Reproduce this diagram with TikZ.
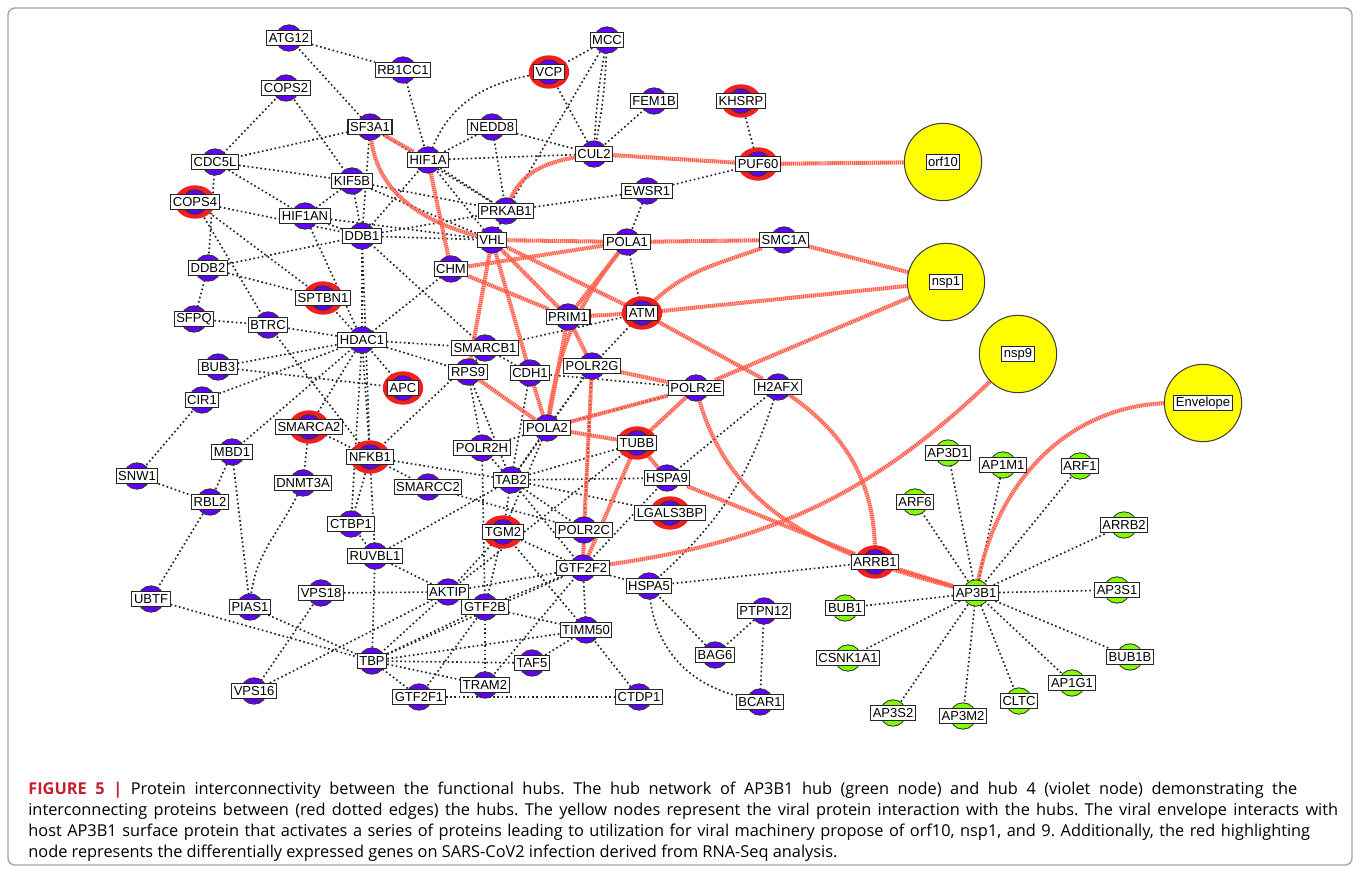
\documentclass[tikz,border=0pt]{standalone}
\usepackage{fontspec}
\newfontfamily\lblfont{Liberation Sans}
\newfontfamily\capfont{Open Sans}
\usetikzlibrary{shapes.geometric}
\definecolor{vio}{RGB}{98,0,255}
\definecolor{hubgreen}{RGB}{128,255,0}
\definecolor{degred}{RGB}{245,30,30}
\definecolor{viralyellow}{RGB}{255,255,0}
\definecolor{linkred}{RGB}{255,95,75}
\definecolor{figred}{RGB}{200,30,45}
\pgfdeclarelayer{bg}
\pgfdeclarelayer{edges}
\pgfdeclarelayer{discs}
\pgfsetlayers{bg,edges,discs,main}
\tikzset{
  lbl/.style={draw=black!85, fill=white, line width=0.6pt, inner xsep=1.2pt, inner ysep=0pt,
    minimum height=8.6pt, font=\lblfont\fontsize{7.4}{8}\selectfont},
  vdisc/.style={circle, draw=black!80, line width=0.5pt, fill=vio, minimum size=15pt, inner sep=0pt},
  gdisc/.style={vdisc, fill=hubgreen},
  degring/.style={ellipse, fill=degred, minimum width=23pt, minimum height=19pt, inner sep=0pt},
  viral/.style={circle, draw=black!75, line width=0.6pt, fill=viralyellow, minimum size=44pt, inner sep=0pt},
  dotedge/.style={draw=black!85, line width=0.95pt, dash pattern=on 0.95pt off 1.5pt},
  redlink/.style={draw=linkred, line width=2.3pt, dash pattern=on 0.8pt off 0.35pt},
  captext/.style={anchor=base west, inner sep=0pt, font=\capfont\fontsize{9.3}{10}\selectfont\frenchspacing}
}
\begin{document}
\begin{tikzpicture}[x=0.02cm, y=-0.02cm]
\useasboundingbox (0,0) rectangle (1360,872);
\begin{pgfonlayer}{bg}
\fill[white] (0,0) rectangle (1360,872);
\draw[black!35, line width=0.8pt, rounded corners=4pt] (8,8) rectangle (1352,865);
\end{pgfonlayer}

% hub 4 (violet)
\node[lbl] (atg12) at (289,38) {ATG12};
\node[lbl] (rb1cc1) at (403,70) {RB1CC1};
\node[lbl] (mcc) at (607,40) {MCC};
\node[lbl] (vcp) at (549,72) {VCP};
\node[lbl] (cops2) at (286,88) {COPS2};
\node[lbl] (fem1b) at (654,101) {FEM1B};
\node[lbl] (khsrp) at (741,101) {KHSRP};
\node[lbl] (sf3a1) at (370,127) {SF3A1};
\node[lbl] (nedd8) at (492,127) {NEDD8};
\node[lbl] (cul2) at (594,154) {CUL2};
\node[lbl] (hif1a) at (428,160) {HIF1A};
\node[lbl] (puf60) at (758,164) {PUF60};
\node[lbl] (cdc5l) at (215,162) {CDC5L};
\node[lbl] (kif5b) at (352,181) {KIF5B};
\node[lbl] (ewsr1) at (647,191) {EWSR1};
\node[lbl] (cops4) at (195,202) {COPS4};
\node[lbl] (prkab1) at (506,211) {PRKAB1};
\node[lbl] (hif1an) at (305,216) {HIF1AN};
\node[lbl] (ddb1) at (362,236) {DDB1};
\node[lbl] (vhl) at (492,240) {VHL};
\node[lbl] (pola1) at (627,242) {POLA1};
\node[lbl] (smc1a) at (784,240) {SMC1A};
\node[lbl] (ddb2) at (208,268) {DDB2};
\node[lbl] (chm) at (451,269) {CHM};
\node[lbl] (sptbn1) at (323,298) {SPTBN1};
\node[lbl] (prim1) at (568,317) {PRIM1};
\node[lbl] (atm) at (642,313) {ATM};
\node[lbl] (sfpq) at (194,319) {SFPQ};
\node[lbl] (btrc) at (268,325) {BTRC};
\node[lbl] (hdac1) at (362,340) {HDAC1};
\node[lbl] (smarcb1) at (485,348) {SMARCB1};
\node[lbl] (bub3) at (218,367) {BUB3};
\node[lbl] (rps9) at (468,372) {RPS9};
\node[lbl] (cdh1) at (530,373) {CDH1};
\node[lbl] (polr2g) at (592,366) {POLR2G};
\node[lbl] (polr2e) at (696,388) {POLR2E};
\node[lbl] (h2afx) at (778,387) {H2AFX};
\node[lbl] (apc) at (403,388) {APC};
\node[lbl] (cir1) at (202,400) {CIR1};
\node[lbl] (smarca2) at (309,427) {SMARCA2};
\node[lbl] (pola2) at (547,428) {POLA2};
\node[lbl] (tubb) at (637,443) {TUBB};
\node[lbl] (polr2h) at (482,448) {POLR2H};
\node[lbl] (mbd1) at (232,452) {MBD1};
\node[lbl] (nfkb1) at (370,457) {NFKB1};
\node[lbl] (snw1) at (137,476) {SNW1};
\node[lbl] (tab2) at (511,480) {TAB2};
\node[lbl] (hspa9) at (667,478) {HSPA9};
\node[lbl] (dnmt3a) at (303,483) {DNMT3A};
\node[lbl] (smarcc2) at (428,487) {SMARCC2};
\node[lbl] (rbl2) at (210,502) {RBL2};
\node[lbl] (lgals3bp) at (670,513) {LGALS3BP};
\node[lbl] (ctbp1) at (351,524) {CTBP1};
\node[lbl] (tgm2) at (503,532) {TGM2};
\node[lbl] (polr2c) at (584,530) {POLR2C};
\node[lbl] (ruvbl1) at (375,556) {RUVBL1};
\node[lbl] (gtf2f2) at (583,568) {GTF2F2};
\node[lbl] (hspa5) at (649,586) {HSPA5};
\node[lbl] (aktip) at (448,592) {AKTIP};
\node[lbl] (vps18) at (321,593) {VPS18};
\node[lbl] (ubtf) at (151,599) {UBTF};
\node[lbl] (pias1) at (250,607) {PIAS1};
\node[lbl] (gtf2b) at (485,607) {GTF2B};
\node[lbl] (ptpn12) at (764,611) {PTPN12};
\node[lbl] (timm50) at (586,630) {TIMM50};
\node[lbl] (bag6) at (715,655) {BAG6};
\node[lbl] (tbp) at (372,661) {TBP};
\node[lbl] (taf5) at (532,663) {TAF5};
\node[lbl] (tram2) at (485,685) {TRAM2};
\node[lbl] (vps16) at (254,691) {VPS16};
\node[lbl] (gtf2f1) at (419,697) {GTF2F1};
\node[lbl] (ctdp1) at (639,697) {CTDP1};
\node[lbl] (bcar1) at (760,702) {BCAR1};
\node[lbl] (arrb1) at (875,562) {ARRB1};

% AP3B1 hub (green)
\node[lbl] (ap3b1) at (976,593) {AP3B1};
\node[lbl] (ap3d1) at (948,453) {AP3D1};
\node[lbl] (ap1m1) at (1003,465) {AP1M1};
\node[lbl] (arf1) at (1080,466) {ARF1};
\node[lbl] (arf6) at (915,502) {ARF6};
\node[lbl] (arrb2) at (1124,525) {ARRB2};
\node[lbl] (ap3s1) at (1117,590) {AP3S1};
\node[lbl] (bub1) at (845,608) {BUB1};
\node[lbl] (csnk1a1) at (848,658) {CSNK1A1};
\node[lbl] (bub1b) at (1130,657) {BUB1B};
\node[lbl] (ap1g1) at (1072,683) {AP1G1};
\node[lbl] (cltc) at (1019,701) {CLTC};
\node[lbl] (ap3s2) at (893,713) {AP3S2};
\node[lbl] (ap3m2) at (963,716) {AP3M2};

% viral proteins
\node[lbl] (orf10) at (943,162) {orf10};
\node[lbl] (nsp1) at (946,282) {nsp1};
\node[lbl] (nsp9) at (1018,354) {nsp9};
\node[lbl] (envelope) at (1203,403) {Envelope};

\begin{pgfonlayer}{discs}
\foreach \n in {atg12,rb1cc1,mcc,cops2,fem1b,sf3a1,nedd8,cul2,hif1a,cdc5l,kif5b,ewsr1,prkab1,hif1an,
  ddb1,vhl,pola1,smc1a,ddb2,chm,prim1,sfpq,btrc,hdac1,smarcb1,bub3,rps9,cdh1,polr2g,polr2e,h2afx,
  cir1,pola2,polr2h,mbd1,snw1,tab2,hspa9,dnmt3a,smarcc2,rbl2,ctbp1,polr2c,ruvbl1,gtf2f2,hspa5,aktip,
  vps18,ubtf,pias1,gtf2b,ptpn12,timm50,bag6,tbp,taf5,tram2,vps16,gtf2f1,ctdp1,bcar1}
  \node[vdisc] at (\n) {};
\foreach \n in {vcp,khsrp,puf60,cops4,sptbn1,atm,apc,smarca2,nfkb1,tubb,lgals3bp,tgm2,arrb1}
  {\node[degring] at (\n) {}; \node[vdisc, minimum size=14pt] at (\n) {};}
\foreach \n in {ap3b1,ap3d1,ap1m1,arf1,arf6,arrb2,ap3s1,bub1,csnk1a1,bub1b,ap1g1,cltc,ap3s2,ap3m2}
  \node[gdisc] at (\n) {};
\foreach \n in {orf10,nsp1,nsp9,envelope}
  \node[viral] at (\n) {};
\end{pgfonlayer}

\begin{pgfonlayer}{edges}
% dotted interactions
\draw[dotedge] (atg12) -- (rb1cc1);
\draw[dotedge] (atg12) -- (sf3a1);
\draw[dotedge] (cops2) -- (cdc5l);
\draw[dotedge] (cops2) -- (kif5b);
\draw[dotedge] (rb1cc1) -- (hif1a);
\draw[dotedge] (sf3a1) -- (cdc5l);
\draw[dotedge] (vcp) to[out=190,in=70] (hif1a);
\draw[dotedge] (vcp) -- (cul2);
\draw[dotedge] (mcc) -- (vcp);
\draw[dotedge] (mcc) to[bend left=4] (cul2);
\draw[dotedge] (mcc) to[bend right=4] (cul2);
\draw[dotedge] (mcc) -- (prkab1);
\draw[dotedge] (fem1b) -- (cul2);
\draw[dotedge] (khsrp) -- (puf60);
\draw[dotedge] (nedd8) -- (cul2);
\draw[dotedge] (nedd8) -- (hif1a);
\draw[dotedge] (nedd8) -- (prkab1);
\draw[dotedge] (hif1a) -- (cul2);
\draw[dotedge] (ewsr1) -- (puf60);
\draw[dotedge] (ewsr1) -- (prkab1);
\draw[dotedge] (ewsr1) -- (pola1);
\draw[dotedge] (pola1) -- (atm);
\draw[dotedge] (prkab1) -- (vhl);
\draw[dotedge] (cdc5l) -- (kif5b);
\draw[dotedge] (cdc5l) -- (hif1an);
\draw[dotedge] (cdc5l) -- (ddb2);
\draw[dotedge] (cops4) -- (ddb1);
\draw[dotedge] (cops4) -- (sptbn1);
\draw[dotedge] (cops4) -- (btrc);
\draw[dotedge] (ddb2) -- (sptbn1);
\draw[dotedge] (ddb2) -- (ddb1);
\draw[dotedge] (ddb2) -- (sfpq);
\draw[dotedge] (hif1an) -- (kif5b);
\draw[dotedge] (hif1an) -- (ddb1);
\draw[dotedge] (hif1an) -- (hdac1);
\draw[dotedge] (hif1an) -- (vhl);
\draw[dotedge] (kif5b) -- (ddb1);
\draw[dotedge] (kif5b) -- (prkab1);
\draw[dotedge] (kif5b) -- (vhl);
\draw[dotedge] (sf3a1) -- (prkab1);
\draw[dotedge] (sf3a1) -- (ddb1);
\draw[dotedge] (hif1a) -- (ddb1);
\draw[dotedge] (hif1a) -- (vhl);
\draw[dotedge] (hif1a) -- (prkab1);
\draw[dotedge] (ddb1) -- (vhl);
\draw[dotedge] (ddb1) -- (prkab1);
\draw[dotedge] (ddb1) -- (hdac1);
\draw[dotedge] (ddb1) -- (nfkb1);
\draw[dotedge] (ddb1) -- (smarcb1);
\draw[dotedge] (sfpq) -- (btrc);
\draw[dotedge] (btrc) -- (hdac1);
\draw[dotedge] (sptbn1) -- (hdac1);
\draw[dotedge] (bub3) -- (hdac1);
\draw[dotedge] (cir1) -- (hdac1);
\draw[dotedge] (bub3) -- (apc);
\draw[dotedge] (btrc) -- (nfkb1);
\draw[dotedge] (hdac1) -- (smarcb1);
\draw[dotedge] (hdac1) -- (rps9);
\draw[dotedge] (hdac1) -- (chm);
\draw[dotedge] (hdac1) -- (apc);
\draw[dotedge] (hdac1) -- (nfkb1);
\draw[dotedge] (hdac1) -- (ctbp1);
\draw[dotedge] (hdac1) -- (smarca2);
\draw[dotedge] (hdac1) -- (mbd1);
\draw[dotedge] (smarcb1) -- (nfkb1);
\draw[dotedge] (smarcb1) -- (atm);
\draw[dotedge] (cir1) -- (snw1);
\draw[dotedge] (snw1) -- (rbl2);
\draw[dotedge] (mbd1) -- (rbl2);
\draw[dotedge] (mbd1) -- (pias1);
\draw[dotedge] (rbl2) -- (ubtf);
\draw[dotedge] (smarca2) -- (dnmt3a);
\draw[dotedge] (dnmt3a) to[out=-115,in=85] (pias1);
\draw[dotedge] (smarca2) -- (nfkb1);
\draw[dotedge] (nfkb1) -- (smarcc2);
\draw[dotedge] (nfkb1) -- (tab2);
\draw[dotedge] (nfkb1) -- (ctbp1);
\draw[dotedge] (nfkb1) -- (ruvbl1);
\draw[dotedge] (smarcc2) -- (polr2c);
\draw[dotedge] (ctbp1) -- (ruvbl1);
\draw[dotedge] (ruvbl1) -- (tab2);
\draw[dotedge] (ruvbl1) -- (aktip);
\draw[dotedge] (ruvbl1) -- (tbp);
\draw[dotedge] (vps18) -- (aktip);
\draw[dotedge] (vps18) -- (vps16);
\draw[dotedge] (vps16) -- (aktip);
\draw[dotedge] (ubtf) -- (tbp);
\draw[dotedge] (pias1) -- (tbp);
\draw[dotedge] (tbp) -- (gtf2b);
\draw[dotedge] (tbp) -- (aktip);
\draw[dotedge] (tbp) -- (taf5);
\draw[dotedge] (tbp) -- (tram2);
\draw[dotedge] (tbp) -- (gtf2f1);
\draw[dotedge] (tbp) -- (gtf2f2);
\draw[dotedge] (tbp) -- (timm50);
\draw[dotedge] (gtf2f1) -- (ctdp1);
\draw[dotedge] (gtf2f1) -- (gtf2b);
\draw[dotedge] (aktip) -- (gtf2f2);
\draw[dotedge] (aktip) -- (tgm2);
\draw[dotedge] (gtf2b) -- (tgm2);
\draw[dotedge] (gtf2b) -- (gtf2f2);
\draw[dotedge] (gtf2b) -- (tram2);
\draw[dotedge] (gtf2b) -- (timm50);
\draw[dotedge] (polr2h) -- (gtf2b);
\draw[dotedge] (tgm2) -- (timm50);
\draw[dotedge] (tgm2) -- (tab2);
\draw[dotedge] (tgm2) -- (gtf2f2);
\draw[dotedge] (tram2) -- (gtf2f2);
\draw[dotedge] (taf5) -- (timm50);
\draw[dotedge] (timm50) -- (gtf2f2);
\draw[dotedge] (timm50) -- (ctdp1);
\draw[dotedge] (hspa5) to[out=-85,in=165] (bcar1);
\draw[dotedge] (hspa5) -- (bag6);
\draw[dotedge] (bag6) -- (ptpn12);
\draw[dotedge] (ptpn12) -- (bcar1);
\draw[dotedge] (gtf2f2) -- (hspa5);
\draw[dotedge] (hspa5) -- (arrb1);
\draw[dotedge] (smarcb1) -- (rps9);
\draw[dotedge] (smarcb1) -- (cdh1);
\draw[dotedge] (cdh1) -- (polr2e);
\draw[dotedge] (rps9) -- (polr2h);
\draw[dotedge] (rps9) -- (tab2);
\draw[dotedge] (cdh1) -- (tab2);
\draw[dotedge] (polr2g) -- (atm);
\draw[dotedge] (polr2g) -- (pola2);
\draw[dotedge] (polr2g) -- (tab2);
\draw[dotedge] (polr2e) -- (pola2);
\draw[dotedge] (h2afx) -- (hspa9);
\draw[dotedge] (h2afx) to[bend left=15] (hspa5);
\draw[dotedge] (pola2) -- (polr2h);
\draw[dotedge] (pola2) -- (tab2);
\draw[dotedge] (pola2) -- (tgm2);
\draw[dotedge] (tab2) -- (hspa9);
\draw[dotedge] (tab2) -- (tubb);
\draw[dotedge] (tab2) -- (lgals3bp);
\draw[dotedge] (tab2) -- (polr2c);
\draw[dotedge] (tab2) -- (gtf2f2);
\draw[dotedge] (polr2h) -- (tab2);
\draw[dotedge] (tubb) -- (aktip);
\draw[dotedge] (hspa9) -- (gtf2f2);
\draw[dotedge] (polr2g) -- (polr2c);
\draw[dotedge] (arrb1) -- (ap3b1);
\foreach \g in {ap3d1,ap1m1,arf1,arf6,arrb2,ap3s1,bub1b,ap1g1,cltc,ap3m2,ap3s2,csnk1a1,bub1}
  \draw[dotedge] (ap3b1) -- (\g);
% interconnecting edges (red)
\draw[redlink] (puf60) -- (orf10);
\draw[redlink] (cul2) -- (puf60);
\draw[redlink] (prkab1) to[out=70,in=190] (cul2);
\draw[redlink] (sf3a1) -- (hif1a);
\draw[redlink] (hif1a) -- (chm);
\draw[redlink] (sf3a1) to[out=-85,in=165] (vhl);
\draw[redlink] (vhl) -- (pola1);
\draw[redlink] (pola1) -- (smc1a);
\draw[redlink] (smc1a) -- (nsp1);
\draw[redlink] (chm) -- (pola1);
\draw[redlink] (chm) -- (prim1);
\draw[redlink] (vhl) -- (atm);
\draw[redlink] (vhl) -- (prim1);
\draw[redlink] (vhl) -- (rps9);
\draw[redlink] (rps9) -- (pola2);
\draw[redlink] (vhl) -- (cdh1);
\draw[redlink] (cdh1) -- (pola2);
\draw[redlink] (pola1) -- (prim1);
\draw[redlink] (pola1) to[bend right=15] (pola2);
\draw[redlink] (prim1) -- (atm);
\draw[redlink] (prim1) -- (pola2);
\draw[redlink] (prim1) -- (polr2g);
\draw[redlink] (smc1a) to[out=200,in=45] (atm);
\draw[redlink] (atm) -- (nsp1);
\draw[redlink] (atm) -- (h2afx);
\draw[redlink] (h2afx) to[out=-35,in=90] (arrb1);
\draw[redlink] (polr2e) -- (nsp1);
\draw[redlink] (polr2g) -- (polr2e);
\draw[redlink] (pola2) -- (polr2e);
\draw[redlink] (pola2) -- (tubb);
\draw[redlink] (polr2g) -- (polr2c);
\draw[redlink] (polr2c) -- (gtf2f2);
\draw[redlink] (gtf2f2) -- (tubb);
\draw[redlink] (tubb) -- (polr2e);
\draw[redlink] (tubb) -- (hspa9);
\draw[redlink] (hspa9) -- (arrb1);
\draw[redlink] (arrb1) -- (ap3b1);
\draw[redlink] (polr2e) to[out=-75,in=165] (ap3b1);
\draw[redlink] (gtf2f2) to[out=8,in=-135] (nsp9);
\draw[redlink] (ap3b1) to[out=80,in=180] (envelope);
\end{pgfonlayer}

% caption
\node[captext] (cap1) at (28,794) {\makebox[25.38cm][s]{{\bfseries\color{figred}FIGURE 5 |} Protein interconnectivity between the functional hubs. The hub network of AP3B1 hub (green node) and hub 4 (violet node) demonstrating the}};
\node[captext] (cap2) at (28,815) {\makebox[26.2cm][s]{interconnecting proteins between (red dotted edges) the hubs. The yellow nodes represent the viral protein interaction with the hubs. The viral envelope interacts with}};
\node[captext] (cap3) at (28,836) {\makebox[25.64cm][s]{host AP3B1 surface protein that activates a series of proteins leading to utilization for viral machinery propose of orf10, nsp1, and 9. Additionally, the red highlighting}};
\node[captext] (cap4) at (28,857) {node represents the differentially expressed genes on SARS-CoV2 infection derived from RNA-Seq analysis.};
\end{tikzpicture}
\end{document}
